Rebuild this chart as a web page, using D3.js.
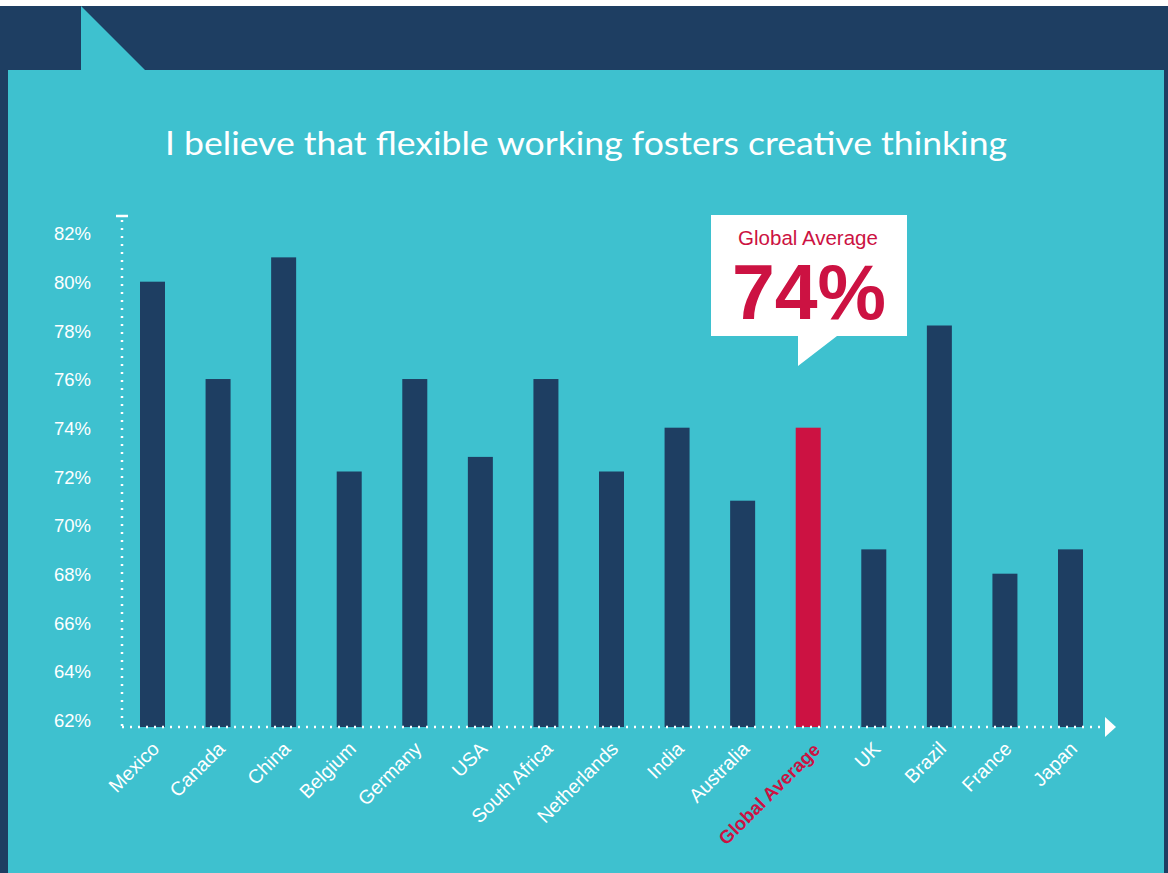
<!DOCTYPE html>
<html>
<head>
<meta charset="utf-8">
<script src="https://cdn.jsdelivr.net/npm/d3@7/dist/d3.min.js"></script>
<style>
  html, body { margin: 0; padding: 0; background: #ffffff; }
  svg { display: block; }
  text { font-family: "Liberation Sans", Arial, sans-serif; }
</style>
</head>
<body>
<svg id="chart" width="1168" height="873"></svg>
<script>
// Survey results: share agreeing that flexible working fosters creative thinking
const countries = ["Mexico", "Canada", "China", "Belgium", "Germany", "USA", "South Africa",
  "Netherlands", "India", "Australia", "Global Average", "UK", "Brazil", "France", "Japan"];
const agreePct = [80, 76, 81, 72.2, 76, 72.8, 76, 72.2, 74, 71, 74, 69, 78.2, 68, 69];
const yTicks = [62, 64, 66, 68, 70, 72, 74, 76, 78, 80, 82];
const highlight = "Global Average";
const titleText = "I believe that flexible working fosters creative thinking";

const NAVY = "#1e3e62";
const CYAN = "#3ec1cf";
const RED = "#cc1242";

const svg = d3.select("#chart");

// Page frame: dark band with a turquoise panel and a folded-corner notch
svg.append("rect").attr("x", 0).attr("y", 6).attr("width", 1168).attr("height", 867).attr("fill", NAVY);
svg.append("rect").attr("x", 8).attr("y", 70).attr("width", 1156).attr("height", 803).attr("fill", CYAN);
svg.append("path").attr("d", "M81,6 L81,70 L145,70 Z").attr("fill", CYAN);

// Title
svg.append("text")
  .attr("x", 586).attr("y", 155)
  .attr("text-anchor", "middle")
  .attr("fill", "#ffffff")
  .style("font-family", "Lato, 'Open Sans', sans-serif")
  .style("font-size", "33px")
  .attr("textLength", 842)
  .attr("lengthAdjust", "spacingAndGlyphs")
  .text(titleText);

// Scales
const y = d3.scaleLinear().domain([61.7, 82.7]).range([727, 216]);
const x = d3.scalePoint().domain(countries).range([152.5, 1070.5]);
const barW = 25;
const baseY = y(61.7);
const axisX = 122;

// Bars
svg.append("g").selectAll("rect")
  .data(countries.map((c, i) => ({ c, v: agreePct[i] })))
  .join("rect")
  .attr("x", d => x(d.c) - barW / 2)
  .attr("y", d => y(d.v))
  .attr("width", barW)
  .attr("height", d => baseY - y(d.v))
  .attr("fill", d => d.c === highlight ? RED : NAVY);

// Y axis: dotted line with a cap, percentage labels
svg.append("line")
  .attr("x1", axisX).attr("x2", axisX)
  .attr("y1", y(82.7) + 4).attr("y2", baseY)
  .attr("stroke", "#fff").attr("stroke-width", 2.5).attr("stroke-dasharray", "2,6");
svg.append("line")
  .attr("x1", axisX - 6).attr("x2", axisX + 6)
  .attr("y1", y(82.7)).attr("y2", y(82.7))
  .attr("stroke", "#fff").attr("stroke-width", 2.5);

const yAxis = d3.axisLeft(y).tickValues(yTicks).tickFormat(d => d + "%").tickSize(0).tickPadding(0);
const gy = svg.append("g").attr("transform", "translate(91,1)").call(yAxis);
gy.select(".domain").remove();
gy.selectAll("text")
  .attr("fill", "#ffffff")
  .style("font-size", "18.5px")
  .style("font-family", "'Liberation Sans', Arial, sans-serif");

// X axis: dotted baseline ending in an arrow head
svg.append("line")
  .attr("x1", axisX).attr("x2", 1101)
  .attr("y1", baseY).attr("y2", baseY)
  .attr("stroke", "#fff").attr("stroke-width", 2.5).attr("stroke-dasharray", "2,6");
svg.append("path")
  .attr("d", `M1105,${baseY - 10} L1116,${baseY} L1105,${baseY + 10} Z`)
  .attr("fill", "#fff");

// Rotated country labels (the highlighted one is bold and red)
svg.append("g").selectAll("text")
  .data(countries)
  .join("text")
  .attr("transform", d => d === highlight
    ? `translate(${x(d) + 13},${baseY + 24}) rotate(-45)`
    : `translate(${x(d) + 8},${baseY + 23}) rotate(-45)`)
  .attr("text-anchor", "end")
  .attr("fill", d => d === highlight ? RED : "#ffffff")
  .style("font-weight", d => d === highlight ? "bold" : "normal")
  .style("font-size", d => d === highlight ? "18.5px" : "19.5px")
  .text(d => d);

// Speech-bubble callout for the global figure
const avg = agreePct[countries.indexOf(highlight)];
const callout = svg.append("g");
callout.append("path")
  .attr("d", "M711,215 L907,215 L907,336 L837,336 L798,366 L798,336 L711,336 Z")
  .attr("fill", "#ffffff");
callout.append("text")
  .attr("x", 808).attr("y", 245)
  .attr("text-anchor", "middle")
  .attr("fill", RED)
  .style("font-size", "20.5px")
  .text(highlight);
callout.append("text")
  .attr("x", 809).attr("y", 319)
  .attr("text-anchor", "middle")
  .attr("fill", RED)
  .style("font-size", "77px")
  .style("font-weight", "bold")
  .text(avg + "%");
</script>
</body>
</html>
